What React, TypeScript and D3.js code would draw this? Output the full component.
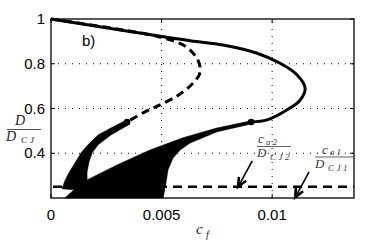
import React from "react";
import * as d3 from "d3";

// axis ticks
const xTicks = [0, 0.005, 0.01];
const xTickLabels = ["0", "0.005", "0.01"];
const yTicks = [0.4, 0.6, 0.8, 1];
const yTickLabels = ["0.4", "0.6", "0.8", "1"];

// solid (stable) branch: c_f -> D/D_CJ
const stableC = [0, 0.00312, 0.00629, 0.00778, 0.00932, 0.01036, 0.01113, 0.01149, 0.01127, 0.01068, 0.00977, 0.00905];
const stableD = [1, 0.951, 0.903, 0.884, 0.847, 0.802, 0.75, 0.691, 0.638, 0.594, 0.549, 0.54];

// dashed (unstable) branch
const unstableC = [0, 0.00357, 0.00516, 0.00606, 0.00656, 0.00674, 0.0067, 0.00647, 0.0062, 0.0057, 0.00493, 0.00425, 0.00344];
const unstableD = [1, 0.946, 0.913, 0.879, 0.83, 0.786, 0.75, 0.719, 0.692, 0.656, 0.616, 0.585, 0.54];

// filled region (outline, in order)
const regionC = [
  0.00335, 0.00271, 0.00213, 0.00167, 0.00136, 0.00109, 0.00081, 0.00063, 0.0005,
  0.00104, 0.00063,
  0.00507,
  0.0052, 0.00529, 0.00552, 0.00584, 0.00629, 0.00751, 0.00905,
  0.00905, 0.00751, 0.00597, 0.00448, 0.00299, 0.00163,
  0.00163, 0.00172, 0.00186, 0.00213, 0.00271, 0.00357,
];
const regionD = [
  0.545, 0.513, 0.482, 0.4375, 0.402, 0.357, 0.3125, 0.277, 0.241,
  0.237, 0.2,
  0.2,
  0.268, 0.326, 0.379, 0.415, 0.446, 0.496, 0.531,
  0.545, 0.513, 0.469, 0.415, 0.348, 0.281,
  0.317, 0.362, 0.402, 0.4375, 0.482, 0.531,
];

// turning points
const dotC = [0.00344, 0.00905];
const dotD = [0.54, 0.54];

// c_a / D_CJ level
const caLevel = 0.25;

// arrows (tail -> tip)
const arrowTailC = [0.0091, 0.01167];
const arrowTailD = [0.366, 0.317];
const arrowTipC = [0.00846, 0.01104];
const arrowTipD = [0.25, 0.203];

export default function App() {
  const width = 392;
  const height = 242;
  const margin = { top: 19, right: 38, bottom: 44, left: 51 };

  const x = d3.scaleLinear().domain([0, 0.0137]).range([margin.left, width - margin.right]);
  const y = d3.scaleLinear().domain([0.2, 1]).range([height - margin.bottom, margin.top]);

  const curve = d3
    .line<[number, number]>()
    .x((d) => x(d[0]))
    .y((d) => y(d[1]))
    .curve(d3.curveCatmullRom.alpha(0.5));

  const region = d3
    .line<[number, number]>()
    .x((d) => x(d[0]))
    .y((d) => y(d[1]))
    .curve(d3.curveLinearClosed);

  const stable = stableC.map((c, i) => [c, stableD[i]] as [number, number]);
  const unstable = unstableC.map((c, i) => [c, unstableD[i]] as [number, number]);
  const area = regionC.map((c, i) => [c, regionD[i]] as [number, number]);

  const [x0, x1] = x.range();
  const [y0, y1] = y.range();
  const tick = 4;
  const math = "'Liberation Serif', 'DejaVu Serif', serif";
  const sans = "'Liberation Sans', Arial, sans-serif";
  const grey = "#3a3a3a";

  return (
    <svg width={width} height={height} style={{ position: "absolute", left: 0, top: 0 }}>
      <rect width={width} height={height} fill="#fff" />
      {/* grid */}
      <g stroke="#000" strokeWidth={1} strokeDasharray="1 6">
        {xTicks.slice(1).map((t) => (
          <line key={t} x1={x(t)} x2={x(t)} y1={y0} y2={y1} />
        ))}
        {yTicks.slice(0, -1).map((t) => (
          <line key={t} x1={x0} x2={x1} y1={y(t)} y2={y(t)} />
        ))}
      </g>

      {/* filled region */}
      <path d={region(area) ?? ""} fill="#000" stroke="#000" strokeWidth={0.6} />

      {/* c_a level */}
      <line x1={x0} x2={x1} y1={y(caLevel)} y2={y(caLevel)} stroke="#000" strokeWidth={2.6} strokeDasharray="9 6" strokeDashoffset={-2} />

      {/* branches */}
      <path d={curve(unstable) ?? ""} fill="none" stroke="#000" strokeWidth={3} strokeDasharray="8 5" />
      <path d={curve(stable) ?? ""} fill="none" stroke="#000" strokeWidth={3} />
      {dotC.map((c, i) => (
        <circle key={i} cx={x(c)} cy={y(dotD[i])} r={3.3} fill="#000" />
      ))}

      {/* arrows */}
      {arrowTipC.map((c, i) => {
        const tx = x(c), ty = y(arrowTipD[i]);
        const sx = x(arrowTailC[i]), sy = y(arrowTailD[i]);
        const a = Math.atan2(ty - sy, tx - sx);
        const L = 10, w = 0.42;
        const p1 = [tx - L * Math.cos(a - w), ty - L * Math.sin(a - w)];
        const p2 = [tx - L * Math.cos(a + w), ty - L * Math.sin(a + w)];
        return (
          <g key={i} stroke="#000" strokeWidth={1.6} fill="none">
            <line x1={sx} y1={sy} x2={tx} y2={ty} />
            <polyline points={`${p1[0]},${p1[1]} ${tx},${ty} ${p2[0]},${p2[1]}`} strokeWidth={2.6} strokeLinejoin="miter" />
          </g>
        );
      })}

      {/* frame */}
      <rect x={x0} y={y1} width={x1 - x0} height={y0 - y1} fill="none" stroke="#000" strokeWidth={1.3} />
      <g stroke="#000" strokeWidth={1}>
        {xTicks.map((t) => (
          <g key={t}>
            <line x1={x(t)} x2={x(t)} y1={y0} y2={y0 - tick} />
            <line x1={x(t)} x2={x(t)} y1={y1} y2={y1 + tick} />
          </g>
        ))}
        {yTicks.map((t) => (
          <g key={t}>
            <line x1={x0} x2={x0 + tick} y1={y(t)} y2={y(t)} />
            <line x1={x1} x2={x1 - tick} y1={y(t)} y2={y(t)} />
          </g>
        ))}
      </g>

      {/* tick labels */}
      <g fontFamily={sans} fontSize={15} fill="#000">
        {xTicks.map((t, i) => (
          <text key={t} x={x(t)} y={y0 + 22} textAnchor="middle">{xTickLabels[i]}</text>
        ))}
        {yTicks.map((t, i) => (
          <text key={t} x={x0 - 6} y={y(t) + 5} textAnchor="end">{yTickLabels[i]}</text>
        ))}
        <text x={82} y={46}>b)</text>
      </g>

      {/* x label */}
      <g fontFamily={math} fontStyle="italic" fill="#222">
        <text x={196} y={234} fontSize={15}>c</text>
        <text x={206} y={238} fontSize={10}>f</text>
      </g>

      {/* y label */}
      <g fontFamily={math} fontStyle="italic" fill="#222">
        <text x={20} y={125} fontSize={14} textAnchor="middle">D</text>
        <line x1={7} x2={41} y1={129.5} y2={129.5} stroke="#222" strokeWidth={0.8} />
        <text x={6} y={141} fontSize={14}>D</text>
        <text x={21} y={143} fontSize={9} letterSpacing={3}>CJ</text>
      </g>

      {/* annotations */}
      <g fontFamily={math} fontStyle="italic" fill={grey}>
        <text x={258} y={143} fontSize={13}>c</text>
        <text x={266} y={145} fontSize={9} letterSpacing={2}>a2</text>
        <line x1={257} x2={291} y1={146.5} y2={146.5} stroke={grey} strokeWidth={0.8} />
        <text x={257} y={157} fontSize={13}>D</text>
        <text x={270} y={160} fontSize={9} letterSpacing={2.5}>CJ2</text>

        <text x={322} y={154} fontSize={13}>c</text>
        <text x={330} y={155} fontSize={9} letterSpacing={2}>a1</text>
        <line x1={315} x2={353} y1={157} y2={157} stroke={grey} strokeWidth={0.8} />
        <text x={315} y={168} fontSize={13}>D</text>
        <text x={328} y={171} fontSize={9} letterSpacing={2.5}>CJ1</text>
      </g>
    </svg>
  );
}
